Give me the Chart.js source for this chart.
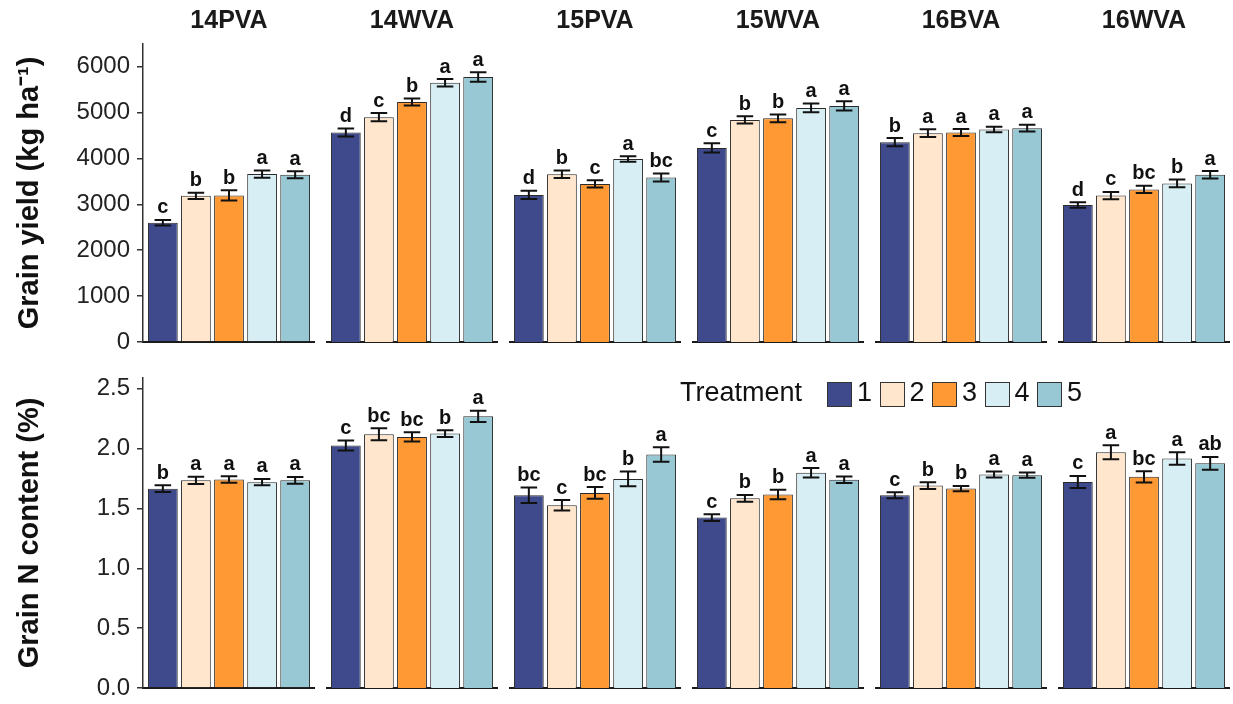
<!DOCTYPE html>
<html>
<head>
<meta charset="utf-8">
<script src="https://cdn.jsdelivr.net/npm/chart.js@4/dist/chart.umd.min.js"></script>
<style>
  html, body { margin: 0; padding: 0; background: #fff; }
  #fig { position: relative; width: 1233px; height: 704px; overflow: hidden; background: #fff; }
  #fig canvas { position: absolute; }
  .lg-text { position: absolute; font: 27px "Liberation Sans", Arial, sans-serif; color: #111; line-height: 25px; height: 25px; white-space: nowrap; }
  .lg-box { position: absolute; width: 25px; height: 25px; box-sizing: border-box; border: 1.5px solid #333; }
</style>
</head>
<body>
<div id="fig"></div>
<script>
// Sites (facets) and treatments
const sites = ['14PVA', '14WVA', '15PVA', '15WVA', '16BVA', '16WVA'];
const treatments = ['1', '2', '3', '4', '5'];
const treatmentColors = ['#3E4A8B', '#FFE6CC', '#FF9933', '#D7EFF4', '#97C8D3'];

// Grain yield (kg ha-1): one row per site, one value per treatment
const yieldMean = [
  [2600, 3185, 3195, 3660, 3645],
  [4565, 4900, 5230, 5650, 5775],
  [3205, 3655, 3445, 3990, 3585],
  [4230, 4840, 4875, 5100, 5145],
  [4355, 4550, 4565, 4630, 4660],
  [2985, 3190, 3325, 3455, 3645]
];
const yieldSE = [
  [60, 70, 110, 80, 75],
  [85, 90, 75, 80, 105],
  [90, 80, 80, 60, 85],
  [100, 80, 85, 95, 100],
  [90, 85, 75, 60, 75],
  [60, 80, 80, 85, 80]
];
const yieldLetters = [
  ['c', 'b', 'b', 'a', 'a'],
  ['d', 'c', 'b', 'a', 'a'],
  ['d', 'b', 'c', 'a', 'bc'],
  ['c', 'b', 'b', 'a', 'a'],
  ['b', 'a', 'a', 'a', 'a'],
  ['d', 'c', 'bc', 'b', 'a']
];
const yieldTicks = [0, 1000, 2000, 3000, 4000, 5000, 6000];

// Grain N content (%)
const nMean = [
  [1.665, 1.735, 1.742, 1.720, 1.735],
  [2.026, 2.120, 2.098, 2.126, 2.270],
  [1.611, 1.527, 1.630, 1.747, 1.951],
  [1.424, 1.585, 1.616, 1.798, 1.740],
  [1.611, 1.691, 1.666, 1.783, 1.778],
  [1.722, 1.970, 1.764, 1.917, 1.877]
];
const nSE = [
  [0.028, 0.031, 0.027, 0.027, 0.028],
  [0.042, 0.050, 0.039, 0.028, 0.047],
  [0.065, 0.043, 0.049, 0.061, 0.060],
  [0.028, 0.028, 0.040, 0.040, 0.028],
  [0.025, 0.029, 0.022, 0.025, 0.022],
  [0.050, 0.058, 0.047, 0.052, 0.053]
];
const nLetters = [
  ['b', 'a', 'a', 'a', 'a'],
  ['c', 'bc', 'bc', 'b', 'a'],
  ['bc', 'c', 'bc', 'b', 'a'],
  ['c', 'b', 'b', 'a', 'a'],
  ['c', 'b', 'b', 'a', 'a'],
  ['c', 'a', 'bc', 'a', 'ab']
];
const nTicks = [0, 0.5, 1.0, 1.5, 2.0, 2.5];

Chart.defaults.font.family = '"Liberation Sans", Arial, Helvetica, sans-serif';
Chart.defaults.color = '#222';

// Error bars (mean ± SE) and significance letters above each bar
const errorLetterPlugin = {
  id: 'errorLetters',
  afterDatasetsDraw(chart) {
    const { ctx } = chart;
    const xs = chart.scales.x, ys = chart.scales.y;
    const ds = chart.data.datasets[0];
    const meta = chart.getDatasetMeta(0);
    const capHalf = xs.getPixelForValue(1.25) - xs.getPixelForValue(1);
    ctx.save();
    ctx.strokeStyle = '#111';
    ctx.lineWidth = 2;
    ctx.fillStyle = '#111';
    ctx.font = 'bold 20px "Liberation Sans", Arial, sans-serif';
    ctx.textAlign = 'center';
    ctx.textBaseline = 'alphabetic';
    meta.data.forEach((bar, i) => {
      const m = ds.data[i].y, e = ds.errors[i];
      const cx = bar.x;
      const hi = ys.getPixelForValue(m + e);
      const lo = ys.getPixelForValue(m - e);
      ctx.beginPath();
      ctx.moveTo(cx, hi); ctx.lineTo(cx, lo);
      ctx.moveTo(cx - capHalf, hi); ctx.lineTo(cx + capHalf, hi);
      ctx.moveTo(cx - capHalf, lo); ctx.lineTo(cx + capHalf, lo);
      ctx.stroke();
      ctx.fillText(ds.letters[i], cx, hi - 6.5);
    });
    ctx.restore();
  }
};

const fig = document.getElementById('fig');
const PANEL_LEFT0 = 143, PANEL_STEP = 183, PANEL_W = 172, AXIS_W = 143, PAD_BOTTOM = 24;

const rows = [
  { mean: yieldMean, se: yieldSE, letters: yieldLetters, ticks: yieldTicks, max: 6494,
    title: 'Grain yield (kg ha\u207B\u00B9)', top: 0, plotTop: 44, plotBottom: 342, strips: true,
    fmt: v => String(v) },
  { mean: nMean, se: nSE, letters: nLetters, ticks: nTicks, max: 2.59,
    title: 'Grain N content (%)', top: 350, plotTop: 378, plotBottom: 688, strips: false,
    fmt: v => Number(v).toFixed(1) }
];

rows.forEach(row => {
  sites.forEach((site, col) => {
    const first = col === 0;
    const left = first ? 0 : PANEL_LEFT0 + col * PANEL_STEP;
    const width = first ? PANEL_LEFT0 + PANEL_W : PANEL_W;
    const height = row.plotBottom + PAD_BOTTOM - row.top;
    const canvas = document.createElement('canvas');
    canvas.width = width;
    canvas.height = height;
    canvas.style.left = left + 'px';
    canvas.style.top = row.top + 'px';
    canvas.style.width = width + 'px';
    canvas.style.height = height + 'px';
    fig.appendChild(canvas);

    const yScale = {
      min: 0,
      max: row.max,
      display: first,
      afterBuildTicks: s => { s.ticks = row.ticks.map(v => ({ value: v })); },
      ticks: { font: { size: 24 }, color: '#222', padding: 7, callback: v => row.fmt(v) },
      grid: { display: true, drawOnChartArea: false, drawTicks: true, tickLength: 6, color: '#333', lineWidth: 1.5 },
      border: { display: true, color: '#333', width: 1.5 },
      title: { display: true, text: row.title, color: '#111',
               font: { size: 29, weight: 'bold' }, padding: { top: 13, bottom: 0 } }
    };
    if (first) yScale.afterFit = s => { s.width = AXIS_W; };

    new Chart(canvas, {
      type: 'bar',
      data: {
        datasets: [{
          label: site,
          data: treatments.map((t, i) => ({ x: i + 1, y: row.mean[col][i] })),
          backgroundColor: treatmentColors,
          borderColor: '#2a2a2a',
          borderWidth: 1,
          barPercentage: 0.9,
          categoryPercentage: 1.0,
          errors: row.se[col],
          letters: row.letters[col]
        }]
      },
      options: {
        responsive: false,
        maintainAspectRatio: false,
        animation: false,
        events: [],
        layout: { padding: { top: row.strips ? 0 : row.plotTop - row.top, bottom: PAD_BOTTOM, left: 0, right: 0 } },
        plugins: {
          legend: { display: false },
          tooltip: { enabled: false },
          title: {
            display: row.strips,
            text: site,
            fullSize: false,
            color: '#1a1a1a',
            font: { size: 25, weight: 'bold' },
            padding: { top: 6, bottom: 8 }
          }
        },
        scales: {
          x: {
            type: 'linear',
            min: 0.4,
            max: 5.6,
            offset: false,
            // one (hidden) tick per treatment position so bars get the full slot width
            afterBuildTicks: s => { s.ticks = treatments.map((t, i) => ({ value: i + 1 })); },
            ticks: { display: false },
            grid: { display: true, offset: false, drawOnChartArea: false, drawTicks: false },
            border: { display: true, color: '#1a1a1a', width: 2 }
          },
          y: yScale
        }
      },
      plugins: [errorLetterPlugin]
    });
  });
});

// Treatment legend built from the treatment list and colours
const legendTitle = document.createElement('div');
legendTitle.className = 'lg-text';
legendTitle.textContent = 'Treatment';
legendTitle.style.left = '680px';
legendTitle.style.top = '380px';
fig.appendChild(legendTitle);
treatments.forEach((t, i) => {
  const bx = 827 + i * 52.5;
  const box = document.createElement('div');
  box.className = 'lg-box';
  box.style.left = bx + 'px';
  box.style.top = '382px';
  box.style.background = treatmentColors[i];
  fig.appendChild(box);
  const lab = document.createElement('div');
  lab.className = 'lg-text';
  lab.textContent = t;
  lab.style.left = (bx + 30) + 'px';
  lab.style.top = '380px';
  fig.appendChild(lab);
});
</script>
</body>
</html>
